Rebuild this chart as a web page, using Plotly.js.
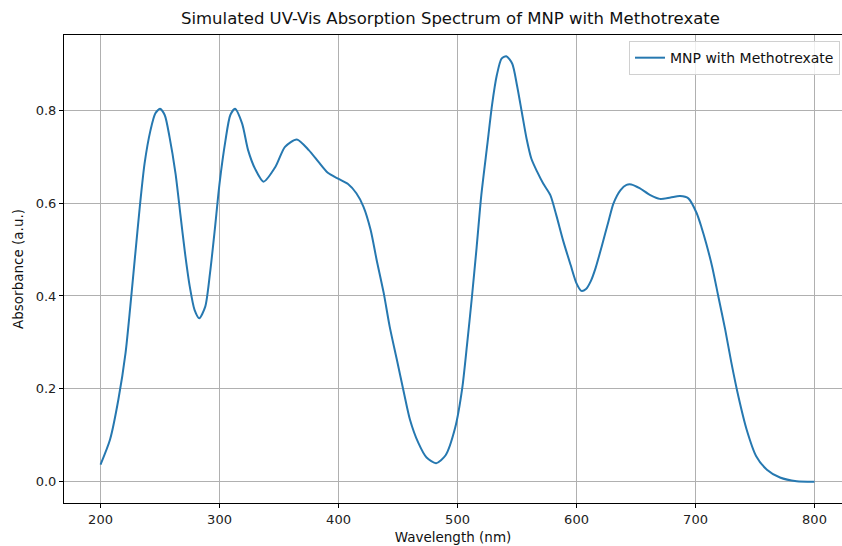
<!DOCTYPE html>
<html><head><meta charset="utf-8">
<script src="https://cdn.plot.ly/plotly-3.0.1.min.js"></script>
<style>html,body{margin:0;padding:0;background:#fff;}#chart{width:842px;height:546px;}</style>
</head><body><div id="chart"></div>
<script>
const wavelength = [200,208,215,221,225,229,233,237,242,246,250,254,258,263,267,271,275,279,283,288,292,296,300,305,309,313,319,324,330,337,347,355,365,375,383,391,400,408,415,421,427,432,438,443,449,455,460,467,474,482,490,498,504,508,512,516,520,525,529,533,537,541,546,550,554,558,562,567,572,578,583,589,595,600,604,608,612,616,621,627,631,637,642,646,653,662,670,679,687,694,701,705,709,714,719,725,730,736,743,751,760,771,785,800];
const absorbance = [0.037,0.091,0.177,0.277,0.377,0.485,0.592,0.685,0.757,0.793,0.803,0.789,0.742,0.664,0.578,0.492,0.420,0.370,0.352,0.377,0.449,0.542,0.642,0.735,0.789,0.803,0.771,0.714,0.673,0.646,0.678,0.721,0.737,0.714,0.689,0.665,0.652,0.641,0.621,0.592,0.542,0.478,0.406,0.334,0.263,0.191,0.134,0.084,0.052,0.040,0.057,0.116,0.202,0.295,0.395,0.503,0.617,0.725,0.811,0.875,0.911,0.916,0.900,0.853,0.796,0.739,0.696,0.667,0.642,0.617,0.574,0.517,0.467,0.427,0.411,0.415,0.432,0.460,0.505,0.562,0.599,0.628,0.639,0.640,0.632,0.617,0.609,0.612,0.615,0.610,0.578,0.548,0.513,0.463,0.401,0.327,0.258,0.184,0.112,0.055,0.026,0.009,0.001,0.000];
const seriesName = 'MNP with Methotrexate';
const xTicks = [200,300,400,500,600,700,800];
const yTicks = [0.0,0.2,0.4,0.6,0.8];
const yTickText = ['0.0','0.2','0.4','0.6','0.8'];

const font = 'DejaVu Sans, sans-serif';
const trace = {
  x: wavelength, y: absorbance, name: seriesName, type: 'scatter', mode: 'lines',
  line: {color: '#2678b0', width: 2, shape: 'spline', smoothing: 0.7},
  showlegend: true
};
const axisCommon = {
  showline: true, linecolor: '#000', linewidth: 1, mirror: true,
  ticks: 'outside', ticklen: 4, tickcolor: '#000', tickwidth: 1,
  showgrid: true, gridcolor: '#b0b0b0', gridwidth: 1, zeroline: false,
  tickfont: {family: font, size: 13, color: '#222'}
};
const layout = {
  width: 842, height: 546,
  margin: {l: 64, r: 0, t: 35, b: 43},
  paper_bgcolor: '#fff', plot_bgcolor: '#fff',
  title: {text: 'Simulated UV-Vis Absorption Spectrum of MNP with Methotrexate',
          font: {family: font, size: 16.5, color: '#111'}, x: 0.535, xanchor: 'center', y: 0.967, yanchor: 'middle'},
  xaxis: Object.assign({}, axisCommon, {range: [169.3, 823.1], tickvals: xTicks,
          title: {text: 'Wavelength (nm)', font: {family: font, size: 13.5, color: '#111'}, standoff: 6}}),
  yaxis: Object.assign({}, axisCommon, {range: [-0.0458, 0.9618], tickvals: yTicks, ticktext: yTickText,
          title: {text: 'Absorbance (a.u.)', font: {family: font, size: 13.5, color: '#111'}, standoff: 8}}),
  legend: {x: 0.9974, xanchor: 'right', y: 0.987, yanchor: 'top', bgcolor: 'rgba(255,255,255,0.8)',
           bordercolor: '#d0d0d0', borderwidth: 1, font: {family: font, size: 14, color: '#111'}},
  showlegend: true
};
Plotly.newPlot('chart', [trace], layout, {displayModeBar: false, staticPlot: true});
</script>
</body></html>
